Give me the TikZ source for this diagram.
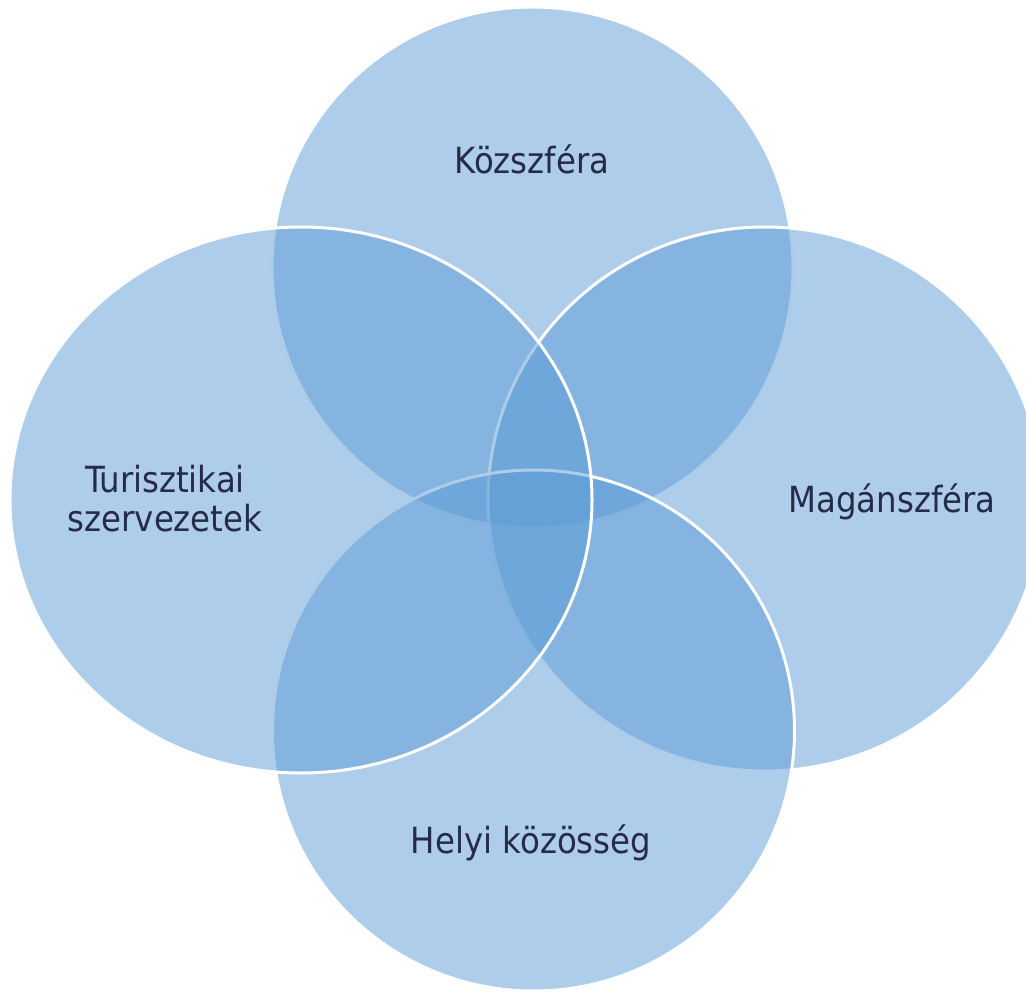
\documentclass[tikz,border=0pt]{standalone}
\usepackage{fontspec}
\setmainfont{DejaVu Sans Condensed}
\usetikzlibrary{shapes.geometric}
\definecolor{vennblue}{HTML}{5B9BD5}
\definecolor{txtnavy}{HTML}{262B48}
\begin{document}
\begin{tikzpicture}[x=1pt,y=-1pt,
  venn/.style={ellipse, inner sep=0pt, outer sep=0pt, fill=vennblue,
    fill opacity=0.5, draw=white, draw opacity=1, line width=3pt},
  lbl/.style={text=txtnavy, text opacity=1, font=\fontsize{36}{39}\selectfont,
    align=center, inner sep=0pt}]
\useasboundingbox (0,0) rectangle (1026,992);
% circles drawn in order: top, right, bottom, left
\node[venn, minimum width=521pt, minimum height=521pt] (top) at (532.5,267.5) {};
\node[venn, minimum width=554pt, minimum height=544pt] (right) at (765,499) {};
\node[venn, minimum width=522pt, minimum height=521pt] (bottom) at (533.5,730.5) {};
\node[venn, minimum width=582pt, minimum height=546pt] (left) at (301,500) {};
% labels
\node[lbl, anchor=base] (tK) at (532,174) {Közszféra};
\node[lbl, anchor=base] (tM) at (892,512) {Magánszféra};
\node[lbl, anchor=base] (tH) at (531,853) {Helyi közösség};
\node[lbl, anchor=center] (tT) at (165,499) {Turisztikai\\szervezetek};
\end{tikzpicture}
\end{document}
